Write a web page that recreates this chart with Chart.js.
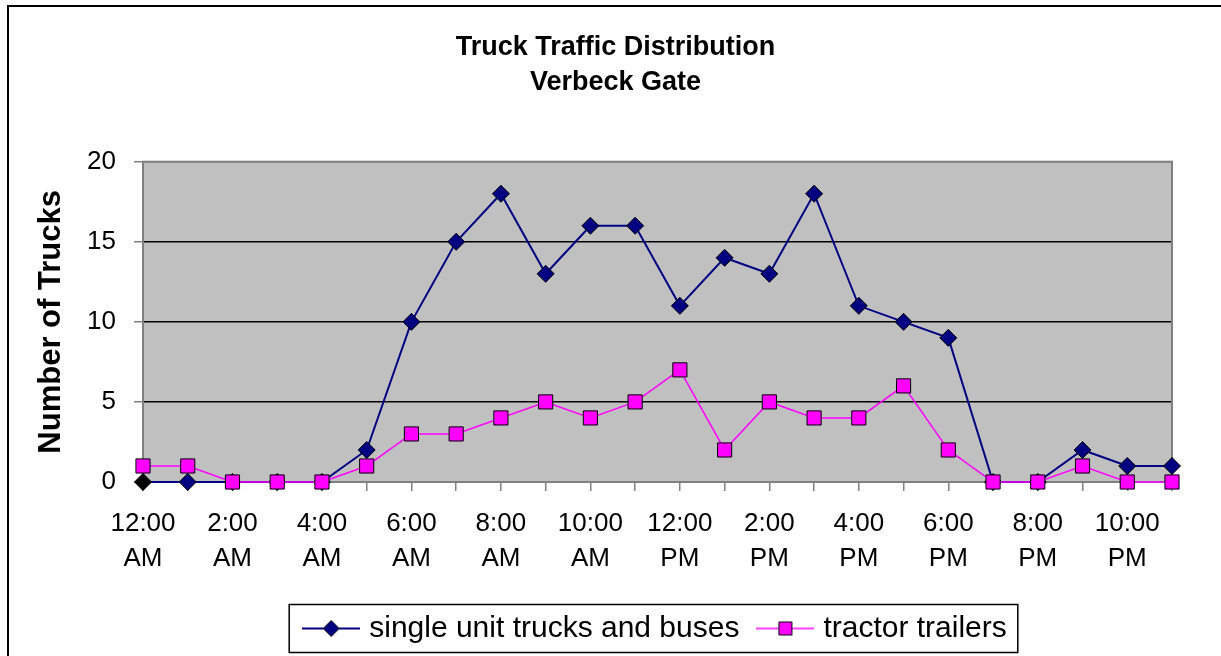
<!DOCTYPE html>
<html>
<head>
<meta charset="utf-8">
<script src="https://cdn.jsdelivr.net/npm/chart.js@4.4.1/dist/chart.umd.min.js"></script>
<style>
html,body{margin:0;padding:0;background:#ffffff;}
canvas{display:block;}
</style>
</head>
<body>
<canvas id="c" width="1221" height="656"></canvas>
<script>
// ---- data ----
const categories = ['12:00 AM','1:00 AM','2:00 AM','3:00 AM','4:00 AM','5:00 AM','6:00 AM','7:00 AM',
  '8:00 AM','9:00 AM','10:00 AM','11:00 AM','12:00 PM','1:00 PM','2:00 PM','3:00 PM',
  '4:00 PM','5:00 PM','6:00 PM','7:00 PM','8:00 PM','9:00 PM','10:00 PM','11:00 PM'];
const singleUnitTrucks = [0,0,0,0,0,2,10,15,18,13,16,16,11,14,13,18,11,10,9,0,0,2,1,1];
const tractorTrailers  = [1,1,0,0,0,1,3,3,4,5,4,5,7,2,5,4,4,6,2,0,0,1,0,0];
const seriesNames = ['single unit trucks and buses','tractor trailers'];
const titleLines = ['Truck Traffic Distribution','Verbeck Gate'];
const yAxisTitle = 'Number of Trucks';
const yMin = 0, yMax = 20, yStep = 5;

// ---- styling ----
const FONT = "'Liberation Sans', Arial, Helvetica, sans-serif";
Chart.defaults.font.family = FONT;
Chart.defaults.color = '#000000';

function legendMarker(lineColor, lineWidth, shape, fill) {
  const c = document.createElement('canvas');
  c.width = 58; c.height = 22;
  const g = c.getContext('2d');
  g.strokeStyle = lineColor; g.lineWidth = lineWidth;
  g.beginPath(); g.moveTo(0, 11); g.lineTo(58, 11); g.stroke();
  g.fillStyle = fill; g.strokeStyle = '#000000'; g.lineWidth = 1;
  g.beginPath();
  if (shape === 'diamond') {
    g.moveTo(29, 3); g.lineTo(37, 11); g.lineTo(29, 19); g.lineTo(21, 11); g.closePath();
  } else {
    g.rect(22.5, 4.5, 13, 13);
  }
  g.fill(); g.stroke();
  return c;
}
const markers = [
  legendMarker('#000080', 2, 'diamond', '#000080'),
  legendMarker('#FF00FF', 1.5, 'square', '#FF00FF')
];

const bgPlugin = {
  id: 'bgPlugin',
  beforeDraw(chart) {
    const {ctx, chartArea: a} = chart;
    ctx.save();
    ctx.fillStyle = '#ffffff';
    ctx.fillRect(0, 0, chart.width, chart.height);
    ctx.fillStyle = '#C0C0C0';
    ctx.fillRect(a.left, a.top, a.right - a.left, a.bottom - a.top);
    ctx.restore();
  },
  beforeDatasetsDraw(chart) {
    const {ctx, chartArea: a} = chart;
    ctx.save();
    ctx.strokeStyle = '#808080';
    ctx.lineWidth = 2;
    ctx.strokeRect(a.left, a.top, a.right - a.left, a.bottom - a.top);
    ctx.restore();
  },
  afterDraw(chart) {
    const ctx = chart.ctx;
    ctx.save();
    // legend frame
    const lg = chart.legend;
    if (lg && lg.legendHitBoxes && lg.legendHitBoxes.length) {
      const hb = lg.legendHitBoxes;
      const first = hb[0], last = hb[hb.length - 1];
      const left = first.left - 6 - 13;
      const right = last.left + last.width + 11;
      const cy = first.top + first.height / 2;
      ctx.strokeStyle = '#000000';
      ctx.lineWidth = 1.5;
      ctx.strokeRect(left, cy - 24, right - left, 48);
    }
    // outer chart frame
    ctx.strokeStyle = '#000000';
    ctx.lineWidth = 2;
    ctx.beginPath();
    ctx.moveTo(8, 660); ctx.lineTo(8, 6); ctx.lineTo(1225, 6);
    ctx.stroke();
    ctx.restore();
  }
};

new Chart(document.getElementById('c'), {
  type: 'line',
  data: {
    labels: categories,
    datasets: [
      {
        label: seriesNames[0],
        data: singleUnitTrucks,
        borderColor: '#000080',
        borderWidth: 2,
        pointStyle: 'rectRot',
        pointRadius: 8.5,
        pointHoverRadius: 8.5,
        pointBackgroundColor: singleUnitTrucks.map((v, i) => i === 0 ? '#000000' : '#000080'),
        pointBorderColor: '#000000',
        pointBorderWidth: 1,
        tension: 0,
        clip: false,
        order: 1
      },
      {
        label: seriesNames[1],
        data: tractorTrailers,
        borderColor: '#FF00FF',
        borderWidth: 1.5,
        pointStyle: 'rect',
        pointRadius: 10,
        pointHoverRadius: 10,
        pointBackgroundColor: '#FF00FF',
        pointBorderColor: '#000000',
        pointBorderWidth: 1,
        tension: 0,
        clip: false,
        order: 0
      }
    ]
  },
  options: {
    responsive: false,
    animation: false,
    events: [],
    layout: { padding: { left: 10, right: 0, top: 0, bottom: 2.5 } },
    plugins: {
      tooltip: { enabled: false },
      title: {
        display: true,
        text: titleLines,
        color: '#000000',
        font: { family: FONT, size: 27, weight: 'bold', lineHeight: 1.285 },
        padding: { top: 30.5, bottom: 61.8 }
      },
      legend: {
        display: true,
        position: 'bottom',
        fullSize: false,
        labels: {
          color: '#000000',
          font: { family: FONT, size: 30 },
          usePointStyle: true,
          pointStyleWidth: 46,
          padding: 23,
          generateLabels(chart) {
            const items = Chart.defaults.plugins.legend.labels.generateLabels(chart);
            items.forEach(it => { it.pointStyle = markers[it.datasetIndex]; });
            return items;
          },
          sort: (a, b) => a.datasetIndex - b.datasetIndex
        }
      }
    },
    scales: {
      x: {
        type: 'category',
        offset: false,
        border: { display: true, color: '#808080', width: 2 },
        grid: { display: true, drawOnChartArea: false, drawTicks: true, tickLength: 9, color: '#808080', lineWidth: 1.5 },
        ticks: {
          autoSkip: false,
          maxRotation: 0,
          minRotation: 0,
          padding: 15.5,
          color: '#000000',
          font: { family: FONT, size: 26, lineHeight: 1.346 },
          callback: function (val, i) {
            return i % 2 === 0 ? categories[i].split(' ') : '';
          }
        },
        afterFit(scale) { scale.height = 108.5; }
      },
      y: {
        min: yMin,
        max: yMax,
        border: { display: true, color: '#808080', width: 2 },
        grid: {
          drawTicks: true,
          tickLength: 9,
          lineWidth: 1.5,
          color: (ctx) => (ctx.tick && (ctx.tick.value === yMin || ctx.tick.value === yMax)) ? '#808080' : '#000000',
          tickColor: '#808080'
        },
        ticks: {
          stepSize: yStep,
          padding: 18,
          color: '#000000',
          font: { family: FONT, size: 26 }
        },
        title: {
          display: true,
          text: yAxisTitle,
          color: '#000000',
          font: { family: FONT, size: 31, weight: 'bold', lineHeight: 1.2 },
          padding: { top: 23, bottom: 0 }
        },
        afterFit(scale) { scale.width = 133; }
      },
      yRightSpace: {
        type: 'linear',
        position: 'right',
        display: true,
        grid: { display: false, drawTicks: false },
        border: { display: false },
        ticks: { display: false },
        afterFit(scale) { scale.width = 49; }
      }
    }
  },
  plugins: [bgPlugin]
});
</script>
</body>
</html>
